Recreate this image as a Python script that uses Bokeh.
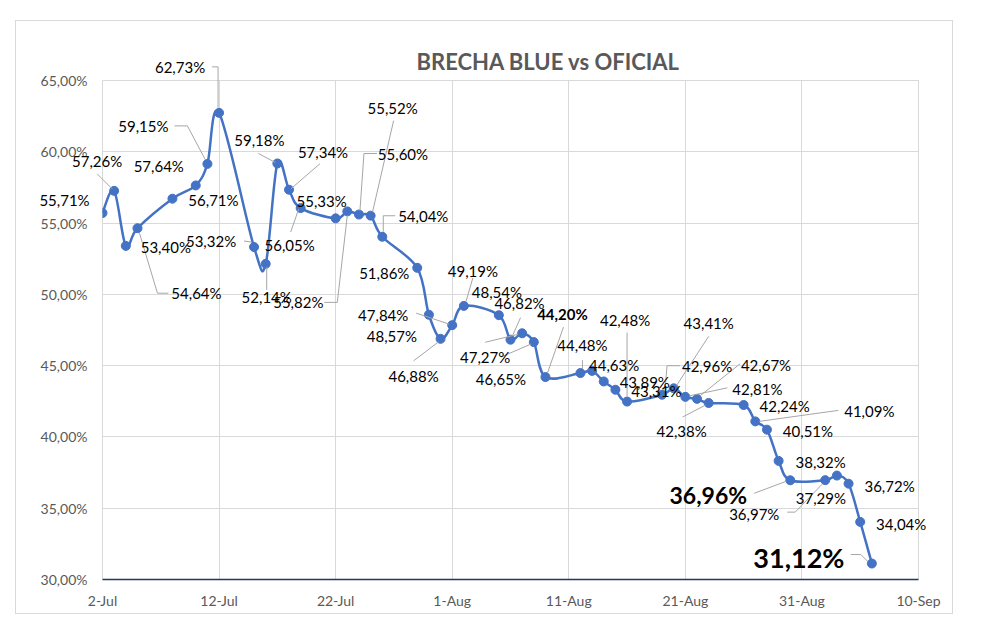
import pandas as pd
from bokeh.plotting import figure
from bokeh.models import ColumnDataSource, Range1d, FixedTicker
from bokeh.core.properties import value, field
from bokeh.embed import file_html
from bokeh.resources import INLINE

# ---------------- data ----------------
dates = ["2024-07-02", "2024-07-03", "2024-07-04", "2024-07-05", "2024-07-08", "2024-07-10",
         "2024-07-11", "2024-07-12", "2024-07-15", "2024-07-16", "2024-07-17", "2024-07-18",
         "2024-07-19", "2024-07-22", "2024-07-23", "2024-07-24", "2024-07-25", "2024-07-26",
         "2024-07-29", "2024-07-30", "2024-07-31", "2024-08-01", "2024-08-02", "2024-08-05",
         "2024-08-06", "2024-08-07", "2024-08-08", "2024-08-09", "2024-08-12", "2024-08-13",
         "2024-08-14", "2024-08-15", "2024-08-16", "2024-08-19", "2024-08-20", "2024-08-21",
         "2024-08-22", "2024-08-23", "2024-08-26", "2024-08-27", "2024-08-28", "2024-08-29",
         "2024-08-30", "2024-09-02", "2024-09-03", "2024-09-04", "2024-09-05", "2024-09-06"]
brecha = [55.71, 57.26, 53.40, 54.64, 56.71, 57.64,
          59.15, 62.73, 53.32, 52.14, 59.18, 57.34,
          56.05, 55.33, 55.82, 55.60, 55.52, 54.04,
          51.86, 48.57, 46.88, 47.84, 49.19, 48.54,
          46.82, 47.27, 46.65, 44.20, 44.48, 44.63,
          43.89, 43.31, 42.48, 42.96, 43.41, 42.81,
          42.67, 42.38, 42.24, 41.09, 40.51, 38.32,
          36.96, 36.97, 37.29, 36.72, 34.04, 31.12]

x_tick_dates = ["2024-07-02", "2024-07-12", "2024-07-22", "2024-08-01",
                "2024-08-11", "2024-08-21", "2024-08-31", "2024-09-10"]
x_tick_labels = ["2-Jul", "12-Jul", "22-Jul", "1-Aug", "11-Aug", "21-Aug", "31-Aug", "10-Sep"]
y_ticks = [30, 35, 40, 45, 50, 55, 60, 65]
y_tick_labels = ["30,00%", "35,00%", "40,00%", "45,00%", "50,00%", "55,00%", "60,00%", "65,00%"]

# ---------------- label styling (screen-pixel offsets from each point) ----------------
label_dx = [-38, -17, 40, 59, 41, -37,
            -64, -39, -43, 1, -18, 34,
            -11, -14, -49, 44, 22, 41,
            -33, -37, -27, -69, 9, -2,
            9, -37, -33, 17, 2, 22,
            41, 41, -2, 45, 35, 72,
            69, -27, 41, 114, 41, 42,
            -82, -71, -16, 41, 41, -73]
label_dy = [-13, -30, 1, 65, 1, -19,
            -38, -46, -6, 33, -23, -38,
            37, -17, 91, -61, -108, -21,
            5, 21, 37, -10, -35, -23,
            -37, 24, 37, -63, -28, -6,
            1, 1, -82, -29, -65, -8,
            -34, 28, 1, -10, 1, 1,
            15, 34, 22, 2, 2, -6]
big_labels = {27: ("15px", "bold"), 42: ("23px", "bold"), 47: ("27px", "bold")}

leaders = {
    1: [(-2, -2), (-17, -17)],
    3: [(2, 5), (20, 65), (31, 65)],
    6: [(-2, -4), (-20, -38), (-33, -38)],
    7: [(-1, -5), (-1, -46), (-7, -46)],
    8: [(-3, -5), (-10, -6)],
    9: [(1, 3), (1, 26)],
    10: [(-2, -1), (-19, -10)],
    11: [(2, -1), (31, -26)],
    12: [(-2, 1), (-10, 24)],
    14: [(0, 4), (-10, 91), (-23, 91)],
    15: [(1, -4), (5, -61), (18, -61)],
    16: [(2, -4), (23, -95)],
    17: [(1, -5), (1, -21), (13, -21)],
    20: [(-2, 3), (-27, 22)],
    21: [(-3, -1), (-36, -12)],
    22: [(2, -4), (9, -28)],
    24: [(2, -4), (10, -22)],
    25: [(-4, 1), (-37, 9)],
    26: [(-3, 2), (-33, 15)],
    27: [(2, -4), (18, -50)],
    28: [(2, -4), (2, -13)],
    32: [(0, -5), (0, -69)],
    33: [(3, -5), (5, -29), (18, -29)],
    34: [(3, -3), (35, -52)],
    35: [(4, -1), (42, -9)],
    36: [(3, -3), (43, -35)],
    37: [(-3, 2), (-26, 14)],
    39: [(4, 0), (83, -11)],
    42: [(-4, 1), (-36, 13)],
    43: [(-3, 4), (-30, 32), (-38, 32)],
    47: [(-4, -2), (-11, -9), (-21, -9)],
}

# ---------------- geometry ----------------
FRAME_W, FRAME_H = 816, 499
BLUE = "#4472C4"
GREY = "#595959"
GRID = "#d9d9d9"

def to_ms(s):
    return pd.to_datetime(pd.Series(s)).astype("int64").to_numpy() // 10**6

xs = [float(v) for v in to_ms(dates)]
ys = brecha
xt = [int(v) for v in to_ms(x_tick_dates)]
x0, x1 = xt[0], xt[-1]
y0, y1 = y_ticks[0], y_ticks[-1]
ms_per_px = (x1 - x0) / FRAME_W
pct_per_px = (y1 - y0) / FRAME_H

p = figure(width=936, height=592, frame_width=FRAME_W, frame_height=FRAME_H,
           min_border_left=86, min_border_top=59, min_border_right=34, min_border_bottom=34,
           x_range=Range1d(x0, x1), y_range=Range1d(y0, y1),
           output_backend="svg", toolbar_location=None,
           title="BRECHA BLUE vs OFICIAL")
p.margin = (20, 0, 0, 15)
p.styles = {"border": "1px solid #d9d9d9"}
p.background_fill_color = "white"
p.border_fill_color = "white"
p.outline_line_color = GRID

p.title.text_font = "Lato"
p.title.text_font_size = "22px"
p.title.text_font_style = "bold"
p.title.text_color = GREY
p.title.align = "left"
p.title.offset = 314
p.title.standoff = 12

# axes
p.xaxis.ticker = FixedTicker(ticks=xt)
p.xaxis.major_label_overrides = {t: l for t, l in zip(xt, x_tick_labels)}
p.yaxis.ticker = FixedTicker(ticks=y_ticks)
p.yaxis.major_label_overrides = {t: l for t, l in zip(y_ticks, y_tick_labels)}
for ax in (p.xaxis[0], p.yaxis[0]):
    ax.major_label_text_font = "Lato"
    ax.major_label_text_font_size = "14px"
    ax.major_label_text_color = GREY
    ax.major_tick_line_color = None
    ax.minor_tick_line_color = None
    ax.major_tick_out = 0
    ax.major_tick_in = 0
p.yaxis.axis_line_color = None
p.yaxis.major_label_standoff = 15
p.xaxis.axis_line_color = "#1f3864"
p.xaxis.axis_line_width = 1.5
p.xaxis.major_label_standoff = 12
p.xgrid.ticker = FixedTicker(ticks=xt)
p.ygrid.ticker = FixedTicker(ticks=y_ticks)
p.xgrid.grid_line_color = GRID
p.ygrid.grid_line_color = GRID

# smoothed line (bezier segments through the data points)
n = len(xs)
bx0, by0, bx1, by1, cx0, cy0, cx1, cy1 = [], [], [], [], [], [], [], []
for i in range(n - 1):
    pxm, pym = (xs[i - 1], ys[i - 1]) if i > 0 else (xs[i], ys[i])
    pxp, pyp = (xs[i + 2], ys[i + 2]) if i + 2 < n else (xs[i + 1], ys[i + 1])
    bx0.append(xs[i]); by0.append(ys[i])
    bx1.append(xs[i + 1]); by1.append(ys[i + 1])
    cx0.append(xs[i] + (xs[i + 1] - pxm) / 6); cy0.append(ys[i] + (ys[i + 1] - pym) / 6)
    cx1.append(xs[i + 1] - (pxp - xs[i]) / 6); cy1.append(ys[i + 1] - (pyp - ys[i]) / 6)
p.bezier(x0=bx0, y0=by0, x1=bx1, y1=by1, cx0=cx0, cy0=cy0, cx1=cx1, cy1=cy1,
         line_color=BLUE, line_width=2.5)

# leader lines
lx, ly = [], []
for i, pts in leaders.items():
    lx.append([xs[i] + dx * ms_per_px for dx, dy in pts])
    ly.append([ys[i] - dy * pct_per_px for dx, dy in pts])
leader_r = p.multi_line(lx, ly, line_color="#a6a6a6", line_width=1)
leader_r.level = "annotation"

# markers
p.scatter(xs, ys, size=9, fill_color=BLUE, line_color=BLUE)

# data labels
texts = [f"{v:.2f}".replace(".", ",") + "%" for v in brecha]
sizes = [big_labels.get(i, ("15px", "normal"))[0] for i in range(n)]
styles = [big_labels.get(i, ("15px", "normal"))[1] for i in range(n)]
src = ColumnDataSource(dict(x=xs, y=ys, t=texts, dx=label_dx, dy=label_dy, fs=sizes, st=styles))
lab_r = p.text(x="x", y="y", text="t", source=src,
               x_offset=field("dx"), y_offset=field("dy"),
               text_font=value("Lato"), text_font_size=field("fs"),
               text_font_style=field("st"), text_color="#000000",
               text_align="center", text_baseline="middle")
lab_r.level = "annotation"

open("out.html", "w").write(file_html(p, INLINE))
